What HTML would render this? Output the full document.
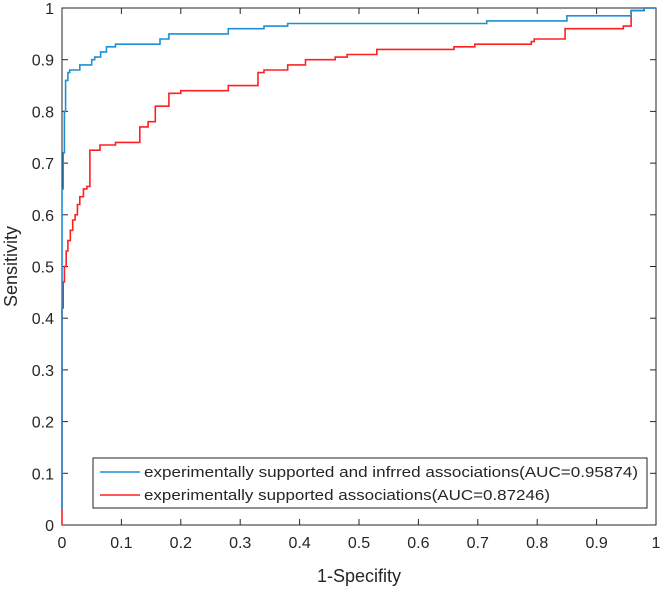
<!DOCTYPE html>
<html><head><meta charset="utf-8"><style>
body{margin:0;background:#fff;}
svg text{font-family:"Liberation Sans",sans-serif;fill:#262626;}
</style></head><body>
<svg id="chart" width="661" height="588" xmlns="http://www.w3.org/2000/svg">
</svg>
<script>
const xTicks=[0,0.1,0.2,0.3,0.4,0.5,0.6,0.7,0.8,0.9,1];
const yTicks=[0,0.1,0.2,0.3,0.4,0.5,0.6,0.7,0.8,0.9,1];
const xTickLabels=["0","0.1","0.2","0.3","0.4","0.5","0.6","0.7","0.8","0.9","1"];
const yTickLabels=["0","0.1","0.2","0.3","0.4","0.5","0.6","0.7","0.8","0.9","1"];
const blueFpr=[0,0,0.002,0.004,0.006,0.01,0.013,0.027,0.03,0.045,0.05,0.055,0.065,0.075,0.09,0.157,0.165,0.18,0.28,0.34,0.38,0.70,0.715,0.85,0.956,0.958,0.98,1];
const blueTpr=[0.03,0.65,0.72,0.80,0.86,0.875,0.88,0.88,0.89,0.89,0.90,0.905,0.915,0.925,0.93,0.93,0.94,0.95,0.96,0.965,0.97,0.97,0.975,0.985,0.985,0.995,1,1];
const redFpr=[0,0,0.002,0.004,0.007,0.01,0.014,0.018,0.022,0.026,0.03,0.036,0.042,0.047,0.047,0.064,0.09,0.131,0.131,0.145,0.157,0.18,0.2,0.28,0.33,0.34,0.38,0.41,0.46,0.48,0.53,0.66,0.695,0.79,0.795,0.847,0.847,0.945,0.958,0.98,1];
const redTpr=[0,0.42,0.47,0.50,0.53,0.55,0.57,0.59,0.60,0.62,0.635,0.65,0.655,0.66,0.725,0.735,0.74,0.745,0.77,0.78,0.81,0.835,0.84,0.85,0.875,0.88,0.89,0.90,0.905,0.91,0.92,0.925,0.93,0.935,0.94,0.945,0.96,0.965,0.995,1,1];
const NS="http://www.w3.org/2000/svg";
const svg=document.getElementById('chart');
const L=62,R=656,T=8,B=525;
const sx=v=>L+v*(R-L), sy=v=>B-v*(B-T);
function mk(tag,attrs,parent){const e=document.createElementNS(NS,tag);for(const k in attrs)e.setAttribute(k,attrs[k]);(parent||svg).appendChild(e);return e;}
const box=mk('rect',{x:L,y:T,width:R-L,height:B-T,fill:'none',stroke:'#262626','stroke-width':1});


xTicks.forEach((v,i)=>{
  const x=sx(v);
  const t1=mk('line',{x1:x,x2:x,y1:B,y2:B-6,stroke:'#262626'});
  
  
  mk('line',{x1:x,x2:x,y1:T,y2:T+6,stroke:'#262626'});
  const tx=mk('text',{x:x,y:B+23,'text-anchor':'middle','font-size':16});
  tx.textContent=xTickLabels[i];
  
  
});
yTicks.forEach((v,i)=>{
  const y=sy(v);
  const t1=mk('line',{x1:L,x2:L+6,y1:y,y2:y,stroke:'#262626'});
  
  
  mk('line',{x1:R,x2:R-6,y1:y,y2:y,stroke:'#262626'});
  const tx=mk('text',{x:L-8,y:y+6,'text-anchor':'end','font-size':16});
  tx.textContent=yTickLabels[i];
  
  
});
function curve(fx,ty,color,name){
  let d='M'+sx(fx[0]).toFixed(1)+','+sy(ty[0]).toFixed(1);
  for(let i=1;i<fx.length;i++){
    d+=' H'+sx(fx[i]).toFixed(1)+' V'+sy(ty[i]).toFixed(1);
  }
  const p=mk('path',{d:d,fill:'none',stroke:color,'stroke-width':1.6});
  
  
}
curve(redFpr,redTpr,'#ff2020','red-roc-curve');
curve(blueFpr,blueTpr,'#1f8fd6','blue-roc-curve');
const xl=mk('text',{x:(L+R)/2,y:582,'text-anchor':'middle','font-size':18});
xl.textContent='1-Specifity';


const yl=mk('text',{x:0,y:0,'text-anchor':'middle','font-size':18,transform:`translate(17,${(T+B)/2}) rotate(-90)`});
yl.textContent='Sensitivity';


const lg=mk('g',{});


mk('rect',{x:93,y:458,width:554,height:50,fill:'#fff',stroke:'#262626'},lg);
const e1=mk('g',{},lg);


mk('line',{x1:100,x2:140,y1:472,y2:472,stroke:'#1f8fd6','stroke-width':1.6},e1);
const l1=mk('text',{x:144,y:477,'font-size':15,textLength:494,lengthAdjust:'spacingAndGlyphs'},e1);
l1.textContent='experimentally supported and infrred associations(AUC=0.95874)';
const e2=mk('g',{},lg);


mk('line',{x1:100,x2:140,y1:495,y2:495,stroke:'#ff2020','stroke-width':1.6},e2);
const l2=mk('text',{x:144,y:500,'font-size':15,textLength:406,lengthAdjust:'spacingAndGlyphs'},e2);
l2.textContent='experimentally supported associations(AUC=0.87246)';
</script>
</body></html>
